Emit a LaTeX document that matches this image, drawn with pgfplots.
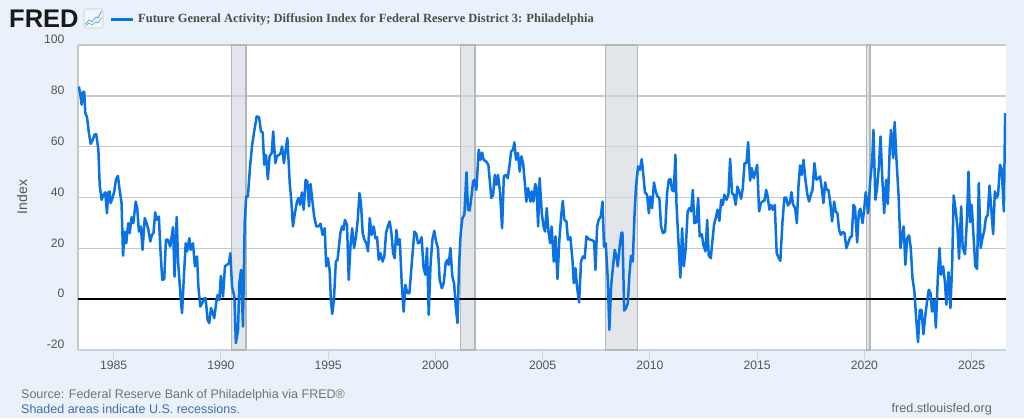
\documentclass[border=0pt]{standalone}
\usepackage{fontspec}
\setmainfont{Liberation Sans}
\newfontfamily\serifbold[BoldFont={Liberation Serif Bold}]{Liberation Serif}
\usepackage{pgfplots}
\pgfplotsset{compat=1.18}
\definecolor{pagebg}{HTML}{E9F1FA}
\definecolor{fredblue}{HTML}{0A72E3}
\definecolor{gridgray}{HTML}{C8C8C8}
\definecolor{bandfill}{HTML}{D3DAE0}
\definecolor{bandline}{HTML}{B4B6B8}
\definecolor{ticktext}{HTML}{555555}
\definecolor{baseline}{HTML}{C9D2E0}
\definecolor{linkblue}{HTML}{456CA8}
\begin{document}
\begin{tikzpicture}[x=1pt,y=1pt]
\fill[pagebg] (0,0) rectangle (1024,418);
\path[use as bounding box] (0,0) rectangle (1024,418);
\begin{axis}[
  at={(78pt,68pt)},
  anchor=south west,
  scale only axis,
  width=928pt,
  height=305pt,
  xmin=1983.34, xmax=2026.6,
  ymin=-20, ymax=100,
  axis background/.style={fill=white},
  axis x line*=bottom,
  axis y line*=left,
  x axis line style={draw=baseline,line width=1.4pt,-},
  y axis line style={draw=gridgray,line width=1.6pt,-},
  xtick={1985,1990,1995,2000,2005,2010,2015,2020,2025},
  ytick={-20,0,20,40,60,80,100},
  xticklabel style={/pgf/number format/1000 sep={},font=\fontsize{12.2}{14}\selectfont,text=ticktext,yshift=1.5pt},
  yticklabel style={font=\fontsize{12.2}{14}\selectfont,text=ticktext,yshift=5.5pt,xshift=-10pt},
  /pgf/number format/assume math mode=true,
  ymajorgrids,
  grid style={draw=gridgray,line width=1.6pt},
  xtick align=outside,
  major tick length=9pt,
  x tick style={draw=baseline,line width=1pt},
  y tick style={draw=none},
]
% recessions
\addplot[draw=bandline,line width=1.4pt,fill=bandfill,fill opacity=0.65] coordinates {(1990.50,-20) (1990.50,100) (1991.17,100) (1991.17,-20)} --cycle;
\addplot[draw=bandline,line width=1.4pt,fill=bandfill,fill opacity=0.65] coordinates {(2001.18,-20) (2001.18,100) (2001.85,100) (2001.85,-20)} --cycle;
\addplot[draw=bandline,line width=1.4pt,fill=bandfill,fill opacity=0.65] coordinates {(2007.92,-20) (2007.92,100) (2009.43,100) (2009.43,-20)} --cycle;
\addplot[draw=bandline,line width=1.4pt,fill=bandfill,fill opacity=0.65] coordinates {(2020.09,-20) (2020.09,100) (2020.26,100) (2020.26,-20)} --cycle;
% zero line
\addplot[black,line width=1.5pt] coordinates {(1983.34,0) (2026.6,0)};
% series
\addplot[fredblue,line width=2.5pt,line join=round] coordinates {
(1983.38,83.7) (1983.45,80.4) (1983.51,76.5) (1983.57,81.6) (1983.63,81.6) (1983.68,73.2) (1983.76,71.6) (1983.85,65.3)
(1983.93,61.1) (1984.02,62.5) (1984.11,64.7) (1984.19,64.9) (1984.29,58.8) (1984.35,45.0) (1984.44,39.1) (1984.53,41.1)
(1984.61,42.0) (1984.69,33.8) (1984.75,42.0) (1984.81,42.4) (1984.86,37.8) (1984.95,39.8) (1985.03,42.4) (1985.11,47.0)
(1985.20,48.5) (1985.28,43.0) (1985.37,37.8) (1985.44,17.1) (1985.51,26.6) (1985.59,22.0) (1985.68,29.9) (1985.75,26.0)
(1985.84,32.3) (1985.92,29.9) (1986.03,38.4) (1986.10,35.8) (1986.18,26.6) (1986.27,28.6) (1986.35,19.4) (1986.45,31.9)
(1986.54,29.9) (1986.62,27.3) (1986.71,22.7) (1986.79,25.3) (1986.86,26.0) (1986.94,34.2) (1987.00,31.2) (1987.11,32.5)
(1987.19,18.1) (1987.27,7.6) (1987.36,7.9) (1987.44,23.4) (1987.53,23.4) (1987.64,20.7) (1987.77,28.3) (1987.84,8.9)
(1987.94,32.3) (1988.01,14.2) (1988.11,2.4) (1988.19,-5.5) (1988.26,6.3) (1988.36,22.0) (1988.43,18.8) (1988.53,24.0)
(1988.59,19.4) (1988.70,22.0) (1988.79,12.9) (1988.89,16.8) (1988.95,5.0) (1989.04,-2.9) (1989.13,-1.6) (1989.23,0.4)
(1989.29,0.4) (1989.38,-8.1) (1989.46,-9.4) (1989.54,-3.5) (1989.60,-4.9) (1989.69,-7.5) (1989.79,-0.9) (1989.85,1.7)
(1989.93,-0.3) (1990.00,9.2) (1990.10,1.0) (1990.19,12.9) (1990.28,13.5) (1990.38,14.2) (1990.44,18.1) (1990.52,5.0)
(1990.63,1.0) (1990.70,-17.3) (1990.80,-12.1) (1990.86,6.3) (1990.94,11.5) (1991.03,-10.8) (1991.11,29.9) (1991.18,40.4)
(1991.26,40.4) (1991.36,52.2) (1991.45,60.1) (1991.54,65.3) (1991.67,71.9) (1991.78,71.6) (1991.87,66.0) (1991.95,65.6)
(1992.02,52.9) (1992.10,56.8) (1992.19,47.2) (1992.27,56.2) (1992.37,57.5) (1992.44,66.0) (1992.54,53.5) (1992.61,56.2)
(1992.71,56.8) (1992.79,57.5) (1992.85,60.1) (1992.94,53.5) (1993.02,58.8) (1993.10,63.4) (1993.21,45.7) (1993.28,39.1)
(1993.36,28.6) (1993.45,33.8) (1993.55,38.4) (1993.62,39.8) (1993.69,37.1) (1993.78,42.0) (1993.86,35.2) (1993.95,47.0)
(1994.03,46.3) (1994.11,36.5) (1994.18,45.3) (1994.26,39.1) (1994.35,32.5) (1994.45,28.6) (1994.54,28.6) (1994.65,29.7)
(1994.74,25.3) (1994.84,27.9) (1994.91,12.9) (1994.99,16.1) (1995.07,11.5) (1995.13,-0.3) (1995.19,-5.8) (1995.27,-0.3)
(1995.36,14.8) (1995.44,15.5) (1995.57,26.0) (1995.65,28.6) (1995.72,27.3) (1995.78,31.2) (1995.88,29.3) (1995.96,7.6)
(1996.04,20.7) (1996.12,27.9) (1996.21,20.1) (1996.30,24.7) (1996.38,31.2) (1996.46,41.7) (1996.53,37.8) (1996.61,26.0)
(1996.69,23.4) (1996.78,22.0) (1996.86,18.8) (1996.94,31.9) (1997.03,25.3) (1997.13,28.6) (1997.20,24.0) (1997.28,24.4)
(1997.36,15.5) (1997.44,18.1) (1997.54,14.8) (1997.62,16.8) (1997.70,26.0) (1997.78,28.6) (1997.87,30.6) (1997.95,26.0)
(1998.03,18.1) (1998.10,16.1) (1998.18,27.3) (1998.26,21.4) (1998.34,23.6) (1998.43,6.3) (1998.52,-4.9) (1998.60,5.6)
(1998.69,2.4) (1998.79,2.4) (1998.90,14.2) (1999.02,26.6) (1999.11,25.7) (1999.19,22.0) (1999.27,22.3) (1999.36,24.4)
(1999.44,12.9) (1999.53,9.6) (1999.61,20.1) (1999.69,-6.2) (1999.77,12.9) (1999.86,23.4) (1999.95,26.9) (2000.03,22.7)
(2000.12,20.1) (2000.20,7.6) (2000.30,4.3) (2000.39,6.3) (2000.48,14.2) (2000.56,15.5) (2000.62,13.5) (2000.70,20.1)
(2000.79,8.9) (2000.87,6.3) (2000.95,-2.9) (2001.03,-9.4) (2001.10,12.9) (2001.18,26.0) (2001.26,31.9) (2001.35,33.2)
(2001.45,49.9) (2001.52,35.2) (2001.60,34.9) (2001.68,40.4) (2001.76,46.3) (2001.83,47.0) (2001.91,43.0) (2002.02,58.8)
(2002.10,54.8) (2002.18,57.7) (2002.25,54.8) (2002.36,54.2) (2002.47,52.9) (2002.53,47.0) (2002.61,39.8) (2002.69,41.1)
(2002.77,48.9) (2002.84,45.0) (2002.92,48.9) (2003.01,42.4) (2003.11,27.9) (2003.19,48.3) (2003.29,48.9) (2003.37,47.6)
(2003.45,52.2) (2003.53,58.1) (2003.62,58.8) (2003.68,61.7) (2003.76,54.8) (2003.85,57.5) (2003.93,50.2) (2004.01,56.2)
(2004.09,53.5) (2004.17,45.7) (2004.24,38.4) (2004.32,43.7) (2004.43,38.4) (2004.49,42.4) (2004.57,38.4) (2004.65,45.3)
(2004.71,44.3) (2004.79,28.6) (2004.86,47.6) (2004.96,33.8) (2005.04,28.6) (2005.11,26.6) (2005.19,35.8) (2005.27,26.6)
(2005.35,22.0) (2005.42,28.6) (2005.52,14.8) (2005.60,24.7) (2005.69,7.9) (2005.78,23.4) (2005.86,32.5) (2005.94,38.7)
(2006.01,31.2) (2006.11,30.6) (2006.18,23.4) (2006.29,24.4) (2006.39,15.5) (2006.45,6.3) (2006.53,12.2) (2006.60,5.0)
(2006.70,-1.3) (2006.79,14.8) (2006.88,16.8) (2006.96,16.1) (2007.04,24.7) (2007.15,23.6) (2007.23,23.4) (2007.32,23.1)
(2007.40,22.7) (2007.46,11.5) (2007.54,28.6) (2007.61,31.2) (2007.71,32.5) (2007.79,38.4) (2007.86,20.7) (2007.94,22.0)
(2008.03,8.9) (2008.11,-12.1) (2008.19,5.0) (2008.28,12.9) (2008.36,19.4) (2008.44,16.8) (2008.50,12.9) (2008.59,20.7)
(2008.67,26.0) (2008.72,26.2) (2008.80,-4.5) (2008.89,-3.5) (2008.97,-1.6) (2009.05,10.2) (2009.12,17.1) (2009.20,14.8)
(2009.28,32.5) (2009.35,44.3) (2009.45,52.2) (2009.53,50.9) (2009.62,55.1) (2009.70,48.3) (2009.77,42.0) (2009.87,41.1)
(2009.95,33.8) (2010.02,40.4) (2010.10,35.8) (2010.19,45.9) (2010.27,42.4) (2010.35,40.4) (2010.44,39.8) (2010.52,28.6)
(2010.61,26.0) (2010.71,26.6) (2010.80,41.7) (2010.88,47.0) (2010.96,47.2) (2011.03,43.0) (2011.11,42.4) (2011.19,56.8)
(2011.24,37.1) (2011.33,22.7) (2011.42,8.5) (2011.50,27.9) (2011.58,12.9) (2011.67,20.1) (2011.76,34.5) (2011.84,35.8)
(2011.92,34.5) (2012.00,43.0) (2012.07,29.9) (2012.17,30.3) (2012.25,39.8) (2012.32,24.7) (2012.42,25.6) (2012.49,21.4)
(2012.59,18.8) (2012.67,31.2) (2012.74,17.2) (2012.84,16.1) (2012.91,22.7) (2012.99,29.3) (2013.07,31.9) (2013.15,35.2)
(2013.24,30.8) (2013.32,39.1) (2013.40,37.1) (2013.47,41.1) (2013.57,39.1) (2013.66,41.1) (2013.74,55.2) (2013.83,41.7)
(2013.91,41.1) (2014.00,37.1) (2014.08,44.3) (2014.16,42.4) (2014.25,39.5) (2014.33,43.7) (2014.41,53.5) (2014.50,53.5)
(2014.58,61.8) (2014.67,46.6) (2014.75,51.6) (2014.84,47.6) (2014.92,50.2) (2015.00,52.9) (2015.09,34.5) (2015.17,37.8)
(2015.24,38.4) (2015.34,38.7) (2015.42,43.0) (2015.49,40.4) (2015.57,35.2) (2015.65,37.1) (2015.73,35.2) (2015.82,37.1)
(2015.91,18.1) (2016.01,16.1) (2016.08,15.1) (2016.18,30.6) (2016.27,40.0) (2016.35,40.0) (2016.43,36.9) (2016.52,37.8)
(2016.60,42.1) (2016.67,37.4) (2016.77,35.8) (2016.85,29.9) (2016.92,43.7) (2017.00,52.6) (2017.08,48.9) (2017.16,54.8)
(2017.25,47.0) (2017.34,41.1) (2017.42,38.4) (2017.50,41.1) (2017.58,43.0) (2017.67,53.5) (2017.76,47.0) (2017.86,47.6)
(2017.93,48.3) (2018.01,43.7) (2018.09,37.8) (2018.17,46.0) (2018.24,43.0) (2018.32,43.0) (2018.41,37.8) (2018.49,30.6)
(2018.59,38.4) (2018.66,34.5) (2018.74,33.8) (2018.82,27.3) (2018.90,25.3) (2018.99,26.4) (2019.07,26.0) (2019.16,20.1)
(2019.24,22.0) (2019.33,24.3) (2019.41,24.7) (2019.49,37.1) (2019.56,36.1) (2019.66,22.3) (2019.74,34.2) (2019.81,35.6)
(2019.91,29.9) (2019.98,34.5) (2020.06,42.1) (2020.17,33.8) (2020.28,47.6) (2020.36,54.2) (2020.42,66.6) (2020.51,39.1)
(2020.59,43.7) (2020.68,52.9) (2020.75,64.0) (2020.84,46.3) (2020.92,33.8) (2021.01,47.0) (2021.09,37.4) (2021.18,59.4)
(2021.24,66.6) (2021.34,55.5) (2021.41,69.7) (2021.49,55.5) (2021.59,41.1) (2021.68,20.1) (2021.76,25.3) (2021.83,28.6)
(2021.91,13.5) (2021.99,24.0) (2022.08,25.1) (2022.16,20.1) (2022.24,8.3) (2022.33,3.0) (2022.41,-7.5) (2022.50,-16.9)
(2022.58,-4.2) (2022.66,-4.2) (2022.75,-13.8) (2022.84,-6.2) (2022.92,-0.9) (2023.00,3.7) (2023.08,2.4) (2023.15,-4.9)
(2023.25,-0.3) (2023.33,-11.2) (2023.42,8.3) (2023.50,20.1) (2023.57,9.6) (2023.67,12.9) (2023.75,7.0) (2023.82,-2.2)
(2023.92,10.6) (2024.01,-3.5) (2024.09,13.5) (2024.16,40.8) (2024.26,34.5) (2024.34,27.9) (2024.41,15.9) (2024.51,36.5)
(2024.58,20.1) (2024.69,17.7) (2024.79,33.2) (2024.85,50.2) (2024.93,30.3) (2025.00,37.1) (2025.10,22.7) (2025.17,12.9)
(2025.25,11.9) (2025.33,45.7) (2025.42,20.1) (2025.50,24.0) (2025.58,26.6) (2025.66,31.9) (2025.75,33.2) (2025.83,44.7)
(2025.91,35.8) (2026.00,25.6) (2026.08,42.4) (2026.15,39.8) (2026.23,41.1) (2026.32,52.9) (2026.40,50.9) (2026.50,34.5)
(2026.56,73.2)
};
\end{axis}
% header
\node[anchor=west,inner sep=0pt,text=black!90] at (9,399) {\fontsize{25.5}{28}\selectfont\bfseries FRED};
\draw[gridgray,fill=pagebg!60!white,rounded corners=1.5pt,line width=0.6pt] (84,390) rectangle (103,409);
\draw[fredblue!70,line width=0.7pt] (85.5,394) -- (89,398) -- (92,396) -- (96,401) -- (98,400) -- (101.5,407);
\draw[teal!60,line width=0.7pt] (85.5,392) -- (89,395) -- (92,393) -- (96,396) -- (98,395) -- (101.5,400);
\draw[fredblue,line width=2.5pt] (111,398.5) -- (133,398.5);
\node[anchor=west,inner sep=0pt,text=black!70] at (138,398.5) {\fontsize{12.5}{14}\selectfont\serifbold\bfseries Future General Activity; Diffusion Index for Federal Reserve District 3: Philadelphia};
% y label
\node[rotate=90,inner sep=0pt,text=ticktext] at (22,221) {\fontsize{14}{16}\selectfont Index};
% footer
\node[anchor=west,inner sep=0pt,text=black!55] at (21,22.5) {\fontsize{12.5}{14}\selectfont Source: Federal Reserve Bank of Philadelphia via FRED\textregistered};
\node[anchor=west,inner sep=0pt,text=linkblue] at (21,9) {\fontsize{12.5}{14}\selectfont Shaded areas indicate U.S. recessions.};
\node[anchor=east,inner sep=0pt,text=black!60] at (992,9) {\fontsize{12.6}{14}\selectfont fred.stlouisfed.org};
\end{tikzpicture}
\end{document}
